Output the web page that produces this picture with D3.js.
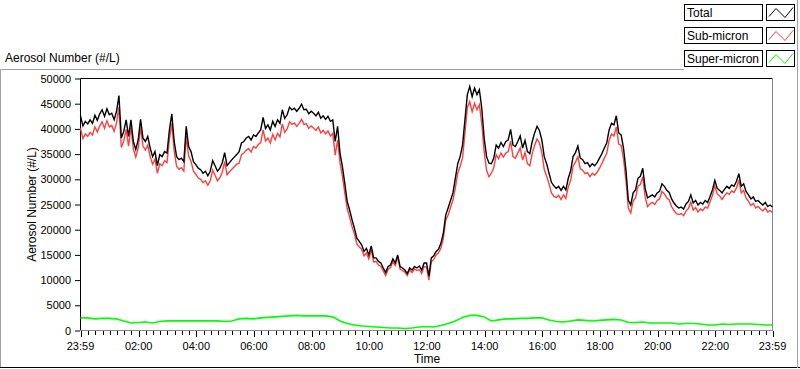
<!DOCTYPE html>
<html>
<head>
<meta charset="utf-8">
<script src="https://cdn.jsdelivr.net/npm/d3@7"></script>
<style>
  body { margin: 0; background: #fff; }
  text { font-family: "Liberation Sans", Arial, sans-serif; font-size: 12px; fill: #000; }
</style>
</head>
<body>
<svg width="800" height="369"></svg>
<script>
// Total aerosol number, one value every 5 minutes from 23:59
const total = [
  42600,40600,41500,41000,41800,41100,42700,41700,43000,43800,
  42500,44000,42800,43100,41800,43500,46600,38200,39500,41800,
  38500,41800,37500,35900,37800,41900,38200,37500,38500,36200,
  34500,35500,32700,34900,34500,35500,35200,39800,43000,37500,
  34500,33900,34200,33500,40500,36500,35500,33500,32900,32200,
  31900,31200,31600,30700,31600,33700,32700,31600,32200,33300,
  35300,32700,33300,33900,34400,34900,35500,37200,37500,38200,
  38500,37800,38800,38500,39200,39800,42300,40100,40800,39800,
  41500,40500,41800,41100,43800,42100,42800,44300,43800,44100,
  43500,44100,44900,43800,43900,43000,43500,43100,42600,43300,
  42100,42600,41900,42500,41500,41800,37500,40500,35200,32500,
  29200,25600,23900,22000,20300,18300,17700,17000,15700,16300,
  15000,16800,14400,14400,13700,13400,12400,11500,12700,13000,
  14200,13400,15000,12700,12400,12000,11300,12400,12000,12700,
  12400,12800,12000,13400,13400,10800,14400,14800,15700,16100,
  17300,19300,22900,24300,25800,27300,30200,33100,34500,36800,
  41800,46800,48400,46400,48100,46800,47800,44100,38200,34500,
  33200,33100,34200,36800,36200,37300,36500,37500,37800,39900,
  36800,36500,37500,38600,36200,37700,35500,35100,37500,39200,
  40500,39700,37800,34500,33100,31200,29400,28700,28200,28600,
  27800,28600,27900,30200,31700,34500,35300,36600,34200,33900,
  33100,33300,32500,33100,32700,33300,34200,35100,36200,37200,
  39800,41100,40800,42600,39200,38800,36200,31900,25900,24900,
  27300,27900,30200,30600,32200,28200,26300,26600,26900,26500,
  27300,27600,29100,28600,27800,27400,26100,25300,24700,24300,
  24500,24100,25100,25600,26900,25300,25800,24900,25400,25100,
  25800,25400,26600,27900,29800,28200,27800,27300,28000,28600,
  28200,28900,28600,29600,31100,28600,29100,27600,26900,26100,
  26500,25600,25800,25300,24900,25400,24600,24900,24500
];

// Sub-micron, same 5 minute steps
const subMicron = [
  40100,38100,39000,38500,39300,38800,40400,39400,40600,41400,
  40100,41600,40400,40700,39500,41200,44300,36300,37600,39900,
  36600,40300,36000,34400,36200,40300,36600,35800,36800,34500,
  33000,34000,31200,33100,32700,33700,33300,37900,41100,35600,
  32600,32000,32300,31600,38600,34600,33600,31600,31000,30300,
  30000,29300,29700,28800,29700,31800,30800,29700,30300,31400,
  33500,30900,31500,32000,32500,33000,33200,34900,35200,35800,
  36100,35400,36500,36200,36900,37300,39800,37600,38200,37200,
  38900,37800,39100,38400,41000,39300,40000,41400,40900,41200,
  40500,41100,41900,40900,41000,40100,40600,40200,39700,40400,
  39200,39700,39000,39600,38600,39100,34800,37800,33300,30600,
  27300,24200,22500,20600,19200,17200,16600,16100,14800,15400,
  14200,16000,13600,13700,13000,12700,11800,10900,12100,12500,
  13700,12900,14500,12200,11900,11600,10900,12000,11500,12200,
  11900,12100,11300,12700,12600,10000,13600,14100,15000,15400,
  16300,18300,21900,22900,24400,25900,28300,31200,32600,34200,
  39200,44200,45400,43400,45100,43800,44800,41100,35500,31800,
  30500,31200,32300,34900,34100,35200,34400,35200,35500,37600,
  34500,34200,35200,36200,33800,35300,33100,32700,35100,36700,
  38000,37200,35300,32000,30600,29100,27300,26600,26400,26800,
  26000,26900,26200,28500,29800,32600,33400,34500,32100,31800,
  31100,31300,30500,31200,30800,31400,32200,33100,34200,35100,
  37700,39000,38600,40400,37000,36700,34100,29800,24300,23300,
  25700,26300,28600,29000,30500,26500,24600,25100,25400,25000,
  25800,26100,27600,27100,26300,25900,24600,23800,23200,23000,
  23200,22800,23700,24200,25500,23900,24400,23500,24100,23800,
  24500,24300,25500,26800,28700,27100,26700,26000,26700,27300,
  27000,27700,27400,28300,29800,27300,27800,26300,25600,24800,
  25200,24300,24600,24100,23700,24300,23500,23800,23400
];

// Super-micron, one value every 15 minutes
const superMicron = [
  2500,2500,2300,2400,2400,2300,1900,1500,1600,1700,
  1500,1800,1900,1900,1900,1900,1900,1900,1900,1900,
  1800,1900,2300,2400,2300,2500,2600,2700,2800,2900,
  3000,2900,2900,2900,2900,2700,1900,1400,1100,900,
  800,700,600,500,500,400,500,700,800,700,
  1000,1400,1900,2600,3000,3000,2700,1900,2100,2300,
  2300,2400,2400,2500,2500,2100,1800,1700,1900,2100,
  2000,1900,2000,2100,2200,2100,1600,1600,1700,1500,
  1500,1500,1500,1300,1400,1400,1300,1100,1100,1300,
  1200,1300,1300,1300,1200,1100,1100
];

const seriesNames = ["Total", "Sub-micron", "Super-micron"];
const seriesColors = ["#000000", "#ff4040", "#00ff00"];
const yTickValues = [0,5000,10000,15000,20000,25000,30000,35000,40000,45000,50000];
const xTickLabels = ["23:59","02:00","04:00","06:00","08:00","10:00","12:00",
                     "14:00","16:00","18:00","20:00","22:00","23:59"];

const start = new Date(2020, 0, 1, 23, 59);
const end = new Date(2020, 0, 2, 23, 59);

const svg = d3.select("svg");

const x = d3.scaleTime().domain([start, end]).range([80.5, 772.5]);
const y = d3.scaleLinear().domain([0, 50000]).range([330.5, 78.5]);

// outer panel frame
svg.append("path")
    .attr("d", "M0.5,368 V69.5 H684")
    .attr("fill", "none").attr("stroke", "#a0a0a0");
svg.append("line")
    .attr("x1", 0).attr("x2", 800).attr("y1", 367.5).attr("y2", 367.5)
    .attr("stroke", "#000");
svg.append("line")
    .attr("x1", 797.5).attr("x2", 797.5).attr("y1", 0).attr("y2", 368)
    .attr("stroke", "#a0a0a0");

svg.append("text")
    .attr("x", 5).attr("y", 62)
    .text("Aerosol Number (#/L)");

// plot frame
svg.append("path")
    .attr("d", "M80.5,331 V78.5 H773")
    .attr("fill", "none").attr("stroke", "#000");
svg.append("path")
    .attr("d", "M80,330.5 H772.5 V78")
    .attr("fill", "none").attr("stroke", "#888");

// y axis
const yAxis = svg.append("g")
    .attr("transform", "translate(80,0)")
    .call(d3.axisLeft(y).tickValues(yTickValues).tickSize(5).tickPadding(4).tickFormat(d3.format("d")));
yAxis.select(".domain").remove();
yAxis.selectAll("text").style("font-size", "11px").attr("font-family", null);

svg.append("text")
    .attr("transform", "translate(36,204.5) rotate(-90)")
    .attr("text-anchor", "middle")
    .text("Aerosol Number (#/L)");

// x axis: majors from the label list, minors every 15 minutes
const parseHM = d3.timeParse("%Y-%m-%d %H:%M");
const majorTimes = xTickLabels.map((l, i) => i === 0 ? start : parseHM("2020-01-02 " + l));
const minorTimes = d3.timeMinute.every(15).range(start, end)
    .filter(t => majorTimes.every(m => Math.abs(x(m) - x(t)) > 1.5));

const xAxis = svg.append("g");
xAxis.selectAll(".minor").data(minorTimes).join("line")
    .attr("x1", d => Math.round(x(d)) + 0.5).attr("x2", d => Math.round(x(d)) + 0.5)
    .attr("y1", 331).attr("y2", 335)
    .attr("stroke", "#000");
xAxis.selectAll(".major").data(majorTimes).join("line")
    .attr("x1", d => Math.round(x(d)) + 0.5).attr("x2", d => Math.round(x(d)) + 0.5)
    .attr("y1", 331).attr("y2", 337)
    .attr("stroke", "#000");
xAxis.selectAll("text").data(majorTimes).join("text")
    .attr("x", d => x(d)).attr("y", 349.5)
    .attr("text-anchor", "middle")
    .style("font-size", "11px")
    .text((d, i) => xTickLabels[i]);

svg.append("text")
    .attr("x", 427).attr("y", 363)
    .attr("text-anchor", "middle")
    .text("Time");

// series
const line5 = d3.line()
    .x((d, i) => x(d3.timeMinute.offset(start, i * 5)))
    .y(d => y(d));
const line15 = d3.line()
    .x((d, i) => x(d3.timeMinute.offset(start, i * 15)))
    .y(d => y(d));

const plot = svg.append("g");
plot.append("path").datum(superMicron)
    .attr("d", line15)
    .attr("fill", "none").attr("stroke", seriesColors[2]).attr("stroke-width", 1.6);
plot.append("path").datum(subMicron)
    .attr("d", line5)
    .attr("fill", "none").attr("stroke", seriesColors[1]).attr("stroke-width", 1.4);
plot.append("path").datum(total)
    .attr("d", line5)
    .attr("fill", "none").attr("stroke", seriesColors[0]).attr("stroke-width", 1.4);

// legend
const legend = svg.append("g");
seriesNames.forEach((name, i) => {
  const top = 4.5 + i * 23;
  legend.append("rect")
      .attr("x", 684.5).attr("y", top).attr("width", 78).attr("height", 16)
      .attr("fill", "#fff").attr("stroke", "#000");
  legend.append("text")
      .attr("x", 687).attr("y", top + 12.5)
      .text(name);
  legend.append("rect")
      .attr("x", 766.5).attr("y", top).attr("width", 28).attr("height", 16)
      .attr("fill", "#fff").attr("stroke", "#000");
  legend.append("polyline")
      .attr("points", [[769, top + 12], [776, top + 4], [785, top + 13], [793, top + 3]].join(" "))
      .attr("fill", "none").attr("stroke", seriesColors[i]);
});
</script>
</body>
</html>
